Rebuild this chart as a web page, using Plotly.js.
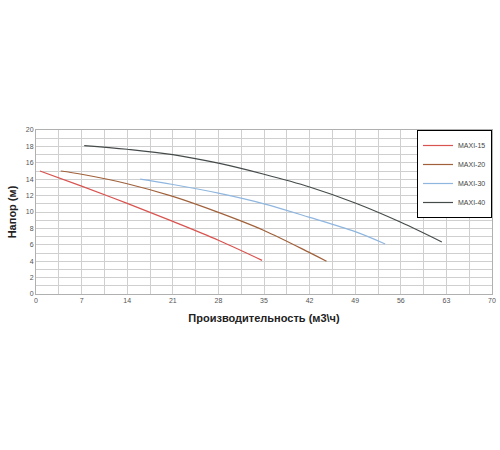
<!DOCTYPE html>
<html>
<head>
<meta charset="utf-8">
<script src="https://cdn.plot.ly/plotly-3.0.1.min.js"></script>
<style>html,body{margin:0;padding:0;background:#fff;}#chart{width:500px;height:450px;}</style>
</head>
<body>
<div id="chart"></div>
<script>
const seriesNames = ["MAXI-15", "MAXI-20", "MAXI-30", "MAXI-40"];
const maxi15X = [0.6, 7, 14, 21, 28, 34.7];
const maxi15Y = [15.0, 13.15, 11.05, 8.85, 6.55, 4.1];
const maxi20X = [3.8, 7, 14, 21, 28, 35, 42, 44.6];
const maxi20Y = [15.0, 14.6, 13.45, 11.9, 9.95, 7.75, 5.05, 4.0];
const maxi30X = [16, 21, 28, 35, 42, 49, 53.6];
const maxi30Y = [14.0, 13.35, 12.3, 11.0, 9.35, 7.6, 6.1];
const maxi40X = [7.4, 14, 21, 28, 35, 42, 49, 56, 62.3];
const maxi40Y = [18.1, 17.65, 17.0, 15.95, 14.6, 13.05, 11.1, 8.75, 6.35];
const xTicks = [0, 7, 14, 21, 28, 35, 42, 49, 56, 63, 70];
const yTicks = [0, 2, 4, 6, 8, 10, 12, 14, 16, 18, 20];

const colors = ["#d9534f", "#a0603a", "#8fb6df", "#454b4b"];
const xs = [maxi15X, maxi20X, maxi30X, maxi40X];
const ys = [maxi15Y, maxi20Y, maxi30Y, maxi40Y];

const data = seriesNames.map((n, i) => ({
  x: xs[i], y: ys[i], name: n, type: "scatter", mode: "lines",
  line: {color: colors[i], width: 1.2, shape: "spline", smoothing: 1}
}));

const layout = {
  width: 500, height: 450,
  margin: {l: 36, r: 8, t: 130, b: 156},
  paper_bgcolor: "#fff", plot_bgcolor: "#fff",
  font: {family: "Liberation Sans, Arial, sans-serif", color: "#555"},
  showlegend: true,
  legend: {
    x: 1, xanchor: "right", y: 1, yanchor: "top",
    bgcolor: "#fff", bordercolor: "#000", borderwidth: 1,
    font: {size: 7, color: "#444"}, itemwidth: 30
  },
  xaxis: {
    range: [0, 70], tickvals: xTicks, ticktext: xTicks.map(String),
    showgrid: true, gridcolor: "#cfcfcf", gridwidth: 1,
    minor: {dtick: 3.5, tick0: 0, showgrid: true, gridcolor: "#cfcfcf", gridwidth: 1},
    showline: true, linecolor: "#b0b0b0", linewidth: 1, mirror: true,
    zeroline: false, ticks: "", tickfont: {size: 7, color: "#555"},
    title: {text: "Производительность (м3\\ч)", font: {size: 11, color: "#222", family: "Liberation Sans, Arial, sans-serif", weight: "bold"}, standoff: 10}
  },
  yaxis: {
    range: [0, 20], tickvals: yTicks, ticktext: yTicks.map(String),
    showgrid: true, gridcolor: "#cfcfcf", gridwidth: 1,
    minor: {dtick: 1, tick0: 0, showgrid: true, gridcolor: "#cfcfcf", gridwidth: 1},
    showline: true, linecolor: "#b0b0b0", linewidth: 1, mirror: true,
    zeroline: false, ticks: "", tickfont: {size: 7, color: "#555"},
    title: {text: "Напор (м)", font: {size: 11, color: "#222", family: "Liberation Sans, Arial, sans-serif", weight: "bold"}, standoff: 6}
  }
};

Plotly.newPlot("chart", data, layout, {displayModeBar: false, staticPlot: true});
</script>
</body>
</html>
